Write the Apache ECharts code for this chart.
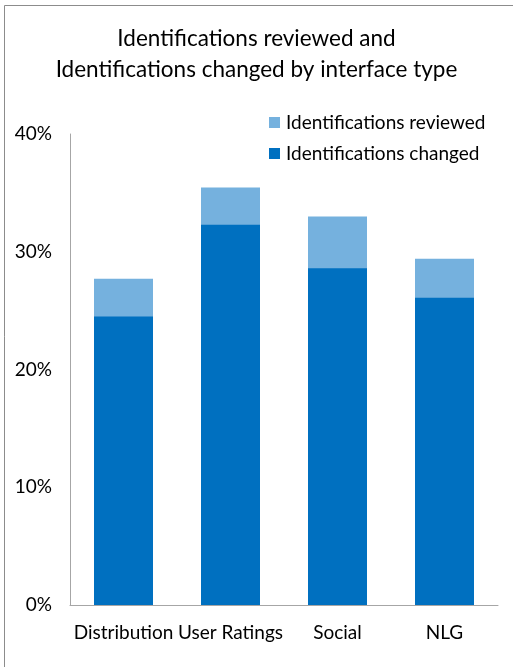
<!DOCTYPE html>
<html><head><meta charset="utf-8">
<script src="https://cdn.jsdelivr.net/npm/echarts@6/dist/echarts.min.js"></script>
<style>html,body{margin:0;padding:0;background:#fff}#c{width:513px;height:667px}</style>
</head><body><div id="c"></div>
<script>
var categories = ['Distribution', 'User Ratings', 'Social', 'NLG'];
var reviewed = [27.7, 35.45, 33.0, 29.4];
var changed = [24.5, 32.3, 28.6, 26.1];
var yTicks = [0, 10, 20, 30, 40];
var titleText = 'Identifications reviewed and\nIdentifications changed by interface type';
var seriesNames = ['Identifications reviewed', 'Identifications changed'];

var FONT = 'Lato, Carlito, Calibri, sans-serif';
var chart = echarts.init(document.getElementById('c'), null, {renderer: 'canvas'});
chart.setOption({
  backgroundColor: '#fff',
  animation: false,
  graphic: [{
    type: 'rect', shape: {x: 4.5, y: 5.5, width: 600, height: 700},
    style: {fill: 'none', stroke: '#8c8c8c', lineWidth: 1}, silent: true
  }],
  title: {
    text: titleText, left: 'center', top: 18,
    textStyle: {fontFamily: FONT, fontSize: 22.5, fontWeight: 'normal', color: '#000', lineHeight: 31}
  },
  legend: {
    data: seriesNames, orient: 'vertical', left: 269, top: 113, padding: 0,
    itemWidth: 11, itemHeight: 11, itemGap: 12, icon: 'rect',
    textStyle: {fontFamily: FONT, fontSize: 19, color: '#000', padding: [0, 0, 0, 1]}
  },
  grid: {left: 70, top: 134, width: 428, height: 471, containLabel: false},
  xAxis: {
    type: 'category', data: categories,
    axisLine: {lineStyle: {color: '#a6a6a6', width: 1}},
    axisTick: {show: false},
    axisLabel: {fontFamily: FONT, fontSize: 19, color: '#000', margin: 18, interval: 0}
  },
  yAxis: {
    type: 'value', min: yTicks[0], max: yTicks[yTicks.length - 1], interval: 10,
    axisLine: {show: true, lineStyle: {color: '#a6a6a6', width: 1}},
    axisTick: {show: false},
    splitLine: {show: false},
    axisLabel: {fontFamily: FONT, fontSize: 19, color: '#000', margin: 18,
      formatter: function (v) { return v + '%'; }}
  },
  series: [
    {name: seriesNames[0], type: 'bar', data: reviewed, barWidth: 59, barGap: '-100%',
     itemStyle: {color: '#75b1de'}},
    {name: seriesNames[1], type: 'bar', data: changed, barWidth: 59, barGap: '-100%',
     itemStyle: {color: '#0070c0'}}
  ]
});
</script></body></html>
